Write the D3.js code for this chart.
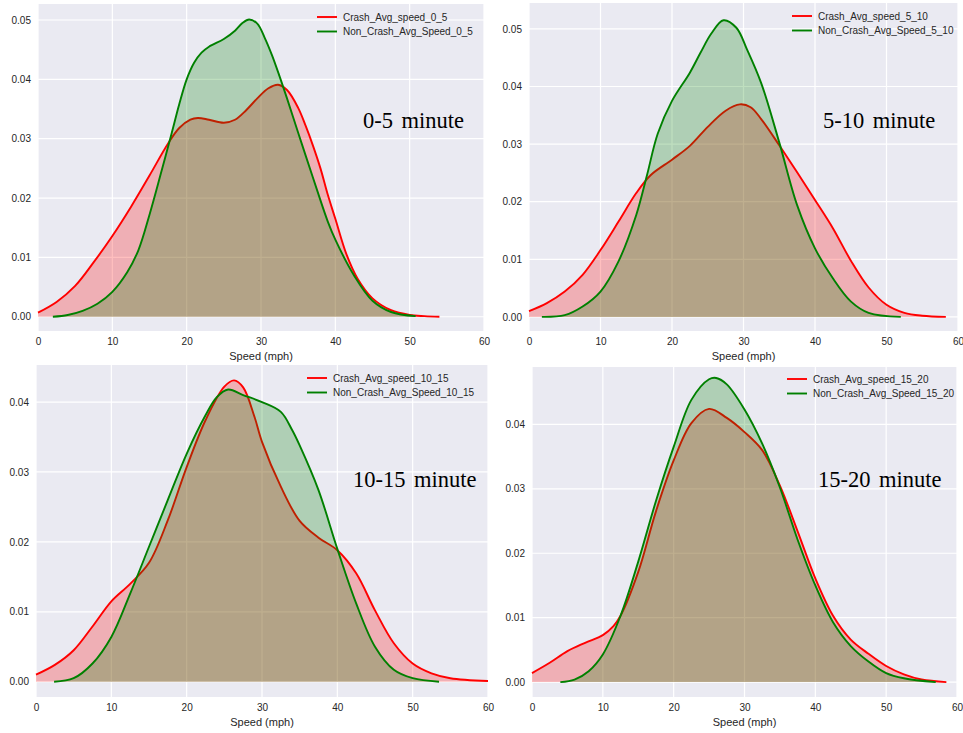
<!DOCTYPE html>
<html>
<head>
<meta charset="utf-8">
<script src="https://cdn.jsdelivr.net/npm/d3@7"></script>
<style>
  html, body { margin: 0; padding: 0; background: #ffffff; }
  svg { display: block; }
</style>
</head>
<body>
<svg id="chart" width="963" height="733"></svg>
<script>
// ---------------- DATA (speed mph, density) ----------------
const xTicks = [0, 10, 20, 30, 40, 50, 60];
const yTicksTop = [0.00, 0.01, 0.02, 0.03, 0.04, 0.05];
const yTicksBottom = [0.00, 0.01, 0.02, 0.03, 0.04];

const crash_0_5 = [[0,0.0007],[2.5,0.0025],[5,0.0052],[7.5,0.0092],[10,0.0136],[12.5,0.0185],[15,0.0238],[17.5,0.0292],[19,0.0318],[20.5,0.0332],[21.5,0.0335],[23,0.0332],[25,0.0327],[26.5,0.0332],[28,0.0348],[29.5,0.0368],[31,0.0385],[32.3,0.0391],[33.5,0.0382],[35,0.0352],[36,0.0322],[37,0.0288],[38,0.0250],[39,0.0205],[40,0.0165],[41.5,0.0105],[43,0.0064],[45,0.0031],[47.5,0.0011],[50,0.0003],[52,0.0001],[54,0.0]];
const noncrash_0_5 = [[2,0.0],[4,0.0003],[6,0.001],[8,0.0022],[10,0.0042],[12,0.0075],[13.5,0.0112],[15,0.0172],[16.5,0.0240],[18,0.0310],[19,0.0358],[20,0.0400],[21,0.0428],[22,0.0445],[23,0.0455],[25,0.0468],[26.5,0.0482],[27.5,0.0495],[28.4,0.0501],[29.5,0.0494],[30.5,0.0470],[31.5,0.0440],[32.5,0.0405],[33.5,0.0368],[35,0.0310],[36,0.0272],[37.5,0.0215],[39,0.0160],[40,0.0130],[42.5,0.0070],[45,0.0027],[47.5,0.0008],[50.8,0.0001]];

const crash_5_10 = [[0,0.001],[2.5,0.0024],[5,0.0044],[7.5,0.0073],[10,0.0116],[12.5,0.0165],[15,0.0215],[17,0.0246],[20,0.0273],[22.5,0.0297],[25,0.0330],[27.5,0.0358],[29.5,0.0369],[31,0.0364],[32.5,0.0343],[35,0.0298],[37.5,0.0251],[40,0.0203],[42.5,0.0154],[45,0.0098],[47.5,0.0051],[50,0.0021],[52.5,0.0007],[55,0.0002],[58.3,0.0]];
const noncrash_5_10 = [[1.8,0.0],[5,0.0003],[7.5,0.0018],[10,0.0044],[12.5,0.0096],[15,0.0177],[16.5,0.0246],[18,0.0318],[20,0.0375],[22.5,0.0424],[24,0.0459],[25.5,0.0492],[27.2,0.0515],[29,0.0502],[30.5,0.0464],[32.5,0.0405],[35,0.0303],[37.5,0.0194],[40,0.0119],[42.5,0.0067],[45,0.0027],[47.5,0.0007],[52,0.0]];

const crash_10_15 = [[0,0.001],[2.5,0.0024],[5,0.0045],[7.5,0.0079],[10,0.0115],[12.5,0.0140],[15,0.0170],[17.5,0.0231],[20,0.0307],[22.5,0.0374],[25,0.0422],[26.3,0.0431],[27.5,0.0421],[29,0.0379],[30,0.0343],[32.5,0.0279],[35,0.0230],[37.5,0.0206],[40,0.0188],[42.5,0.0155],[45,0.0102],[47.5,0.0055],[50,0.0026],[52.5,0.0012],[55,0.0005],[60,0.0001]];
const noncrash_10_15 = [[2.4,0.0],[5,0.0005],[7.5,0.0026],[10,0.0064],[12.5,0.0126],[15,0.0193],[17.5,0.0260],[20,0.0326],[22.5,0.0381],[24,0.0407],[25.5,0.0418],[27.5,0.0410],[30,0.0400],[32.5,0.0386],[34,0.0360],[35,0.0338],[37.5,0.0274],[40,0.0190],[42.5,0.0112],[45,0.0050],[47.5,0.0017],[50,0.0005],[53.5,0.0]];

const crash_15_20 = [[0,0.0014],[2.5,0.0030],[5,0.0048],[7.5,0.0061],[10,0.0073],[11.5,0.0087],[12.5,0.0103],[15,0.0171],[17.5,0.0265],[20,0.0344],[22.5,0.0402],[25,0.0424],[27.5,0.0410],[30,0.0388],[32.5,0.0360],[35,0.0305],[37.5,0.0234],[40,0.0161],[42.5,0.0103],[45,0.0066],[47.5,0.0044],[50,0.0025],[52.5,0.0012],[55,0.0004],[58.5,0.0]];
const noncrash_15_20 = [[4,0.0],[6,0.0004],[8,0.0017],[10,0.0043],[12.5,0.0103],[15,0.0187],[17.5,0.0281],[20,0.0365],[22.5,0.0438],[25,0.0470],[26,0.0472],[27.5,0.0462],[30,0.0423],[32.5,0.0370],[35,0.0302],[37.5,0.0221],[40,0.0150],[42.5,0.0093],[45,0.0056],[47.5,0.0032],[50,0.0014],[52.5,0.0006],[57,0.0]];

const crashNames = ["Crash_Avg_speed_0_5", "Crash_Avg_speed_5_10", "Crash_Avg_speed_10_15", "Crash_Avg_speed_15_20"];
const nonCrashNames = ["Non_Crash_Avg_Speed_0_5", "Non_Crash_Avg_Speed_5_10", "Non_Crash_Avg_Speed_10_15", "Non_Crash_Avg_Speed_15_20"];
const panelLabels = ["0-5 minute", "5-10 minute", "10-15 minute", "15-20 minute"];
const xLabel = "Speed (mph)";

// ---------------- LAYOUT ----------------
const panels = [
  { crash: crash_0_5, non: noncrash_0_5, left: 38, right: 484, top: 4, bottom: 331, yDom: [-0.0024, 0.0527], yTicks: yTicksTop,
    legX: 317, legY: 17, labX: 363, labY: 128 },
  { crash: crash_5_10, non: noncrash_5_10, left: 529, right: 958, top: 3, bottom: 331, yDom: [-0.00245, 0.0545], yTicks: yTicksTop,
    legX: 792, legY: 16, labX: 823, labY: 128 },
  { crash: crash_10_15, non: noncrash_10_15, left: 36, right: 488, top: 365, bottom: 697, yDom: [-0.00219, 0.0453], yTicks: yTicksBottom,
    legX: 307, legY: 378, labX: 353, labY: 487 },
  { crash: crash_15_20, non: noncrash_15_20, left: 532, right: 957, top: 367, bottom: 697, yDom: [-0.00231, 0.0489], yTicks: yTicksBottom,
    legX: 787, legY: 379, labX: 818, labY: 487 }
];

const svg = d3.select("#chart");
const bg = "#EAEAF2";
const txt = "#262626";

panels.forEach((p, i) => {
  const x = d3.scaleLinear().domain([0, 60]).range([p.left, p.right]);
  const y = d3.scaleLinear().domain(p.yDom).range([p.bottom, p.top]);
  const g = svg.append("g");

  g.append("rect").attr("x", p.left).attr("y", p.top)
    .attr("width", p.right - p.left).attr("height", p.bottom - p.top).attr("fill", bg);

  // grid
  g.append("g").selectAll("line").data(xTicks).join("line")
    .attr("x1", d => x(d)).attr("x2", d => x(d)).attr("y1", p.top).attr("y2", p.bottom)
    .attr("stroke", "#ffffff").attr("stroke-width", 1.2);
  g.append("g").selectAll("line").data(p.yTicks).join("line")
    .attr("x1", p.left).attr("x2", p.right).attr("y1", d => y(d)).attr("y2", d => y(d))
    .attr("stroke", "#ffffff").attr("stroke-width", 1.2);

  // axes (labels only, seaborn darkgrid style)
  const xAxis = d3.axisBottom(x).tickValues(xTicks).tickSize(0).tickPadding(7).tickFormat(d3.format("d"));
  const xa = g.append("g").attr("transform", `translate(0,${p.bottom})`).call(xAxis);
  const yAxis = d3.axisLeft(y).tickValues(p.yTicks).tickSize(0).tickPadding(7).tickFormat(d3.format(".2f"));
  const ya = g.append("g").attr("transform", `translate(${p.left},0)`).call(yAxis);
  [xa, ya].forEach(a => {
    a.select(".domain").remove();
    a.selectAll("text").attr("fill", txt).style("font-family", "'Liberation Sans', Arial, sans-serif").style("font-size", "10px");
  });

  g.append("text").attr("x", x(30)).attr("y", p.bottom + 29)
    .attr("text-anchor", "middle").attr("fill", txt)
    .style("font-family", "'Liberation Sans', Arial, sans-serif").style("font-size", "11px")
    .text(xLabel);

  const curve = d3.curveCatmullRom.alpha(0.5);
  const area = d3.area().x(d => x(d[0])).y0(y(0)).y1(d => y(d[1])).curve(curve);
  const line = d3.line().x(d => x(d[0])).y(d => y(d[1])).curve(curve);

  g.append("path").datum(p.crash).attr("d", area).attr("fill", "#ff0000").attr("fill-opacity", 0.25);
  g.append("path").datum(p.crash).attr("d", line).attr("fill", "none").attr("stroke", "#ff0000").attr("stroke-width", 1.9);
  g.append("path").datum(p.non).attr("d", area).attr("fill", "#008000").attr("fill-opacity", 0.25);
  g.append("path").datum(p.non).attr("d", line).attr("fill", "none").attr("stroke", "#008000").attr("stroke-width", 1.9);

  // legend
  const leg = g.append("g").attr("transform", `translate(${p.legX},${p.legY})`);
  const items = [{ c: "#ff0000", t: crashNames[i] }, { c: "#008000", t: nonCrashNames[i] }];
  items.forEach((it, k) => {
    leg.append("line").attr("x1", 0).attr("x2", 20).attr("y1", k * 14.5).attr("y2", k * 14.5)
      .attr("stroke", it.c).attr("stroke-width", 1.9);
    leg.append("text").attr("x", 26).attr("y", k * 14.5).attr("dy", "0.35em").attr("fill", txt)
      .style("font-family", "'Liberation Sans', Arial, sans-serif").style("font-size", "10px")
      .text(it.t);
  });

  g.append("text").attr("x", p.labX).attr("y", p.labY).attr("fill", "#000000")
    .style("font-family", "'Liberation Serif', 'Times New Roman', serif").style("font-size", "22.5px")
    .style("word-spacing", "3px")
    .text(panelLabels[i]);
});
</script>
</body>
</html>
